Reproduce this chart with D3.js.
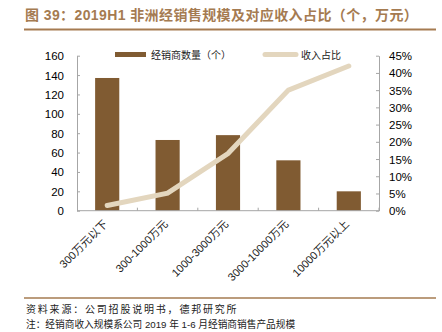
<!DOCTYPE html>
<html><head><meta charset="utf-8">
<script src="https://cdn.jsdelivr.net/npm/d3@7/dist/d3.min.js"></script>
<style>
body{margin:0;background:#fff;}
svg text{font-family:"Liberation Sans","Noto Sans CJK SC",sans-serif;}
</style></head>
<body><svg id="c" width="442" height="332"></svg>
<script>
const categories = ["300万元以下","300-1000万元","1000-3000万元","3000-10000万元","10000万元以上"];
const dealerCounts = [137, 73, 78, 52, 20];
const revenueShare = [0.015, 0.051, 0.166, 0.35, 0.42];
const leftTicks = [0,20,40,60,80,100,120,140,160];
const rightTicks = [0,0.05,0.10,0.15,0.20,0.25,0.30,0.35,0.40,0.45];
const seriesNames = ["经销商数量（个）","收入占比"];
const titleText = "图 39：2019H1 非洲经销售规模及对应收入占比（个，万元）";
const sourceText = "资料来源：公司招股说明书，德邦研究所";
const noteText = "注：经销商收入规模系公司 2019 年 1-6 月经销商销售产品规模";

const svg = d3.select("#c");
const barColor = "#805b32", lineColor = "#e3d6be", axisColor = "#a6a6a6", brown = "#a57b51";
const L = 77, R = 379, T = 55.7, B = 210.7;

svg.append("text").attr("x",25).attr("y",19.5).attr("font-size",14).attr("font-weight","bold")
  .attr("letter-spacing",0.4).attr("fill",brown).text(titleText);
svg.append("line").attr("x1",24).attr("x2",436).attr("y1",29.5).attr("y2",29.5).attr("stroke",brown).attr("stroke-width",2);

const x = d3.scaleBand().domain(categories).range([L,R]).paddingInner(0.6).paddingOuter(0.3);
const y = d3.scaleLinear().domain([0,160]).range([B,T]);
const y2 = d3.scaleLinear().domain([0,0.45]).range([B,T]);

// axes
const gl = svg.append("g").attr("transform",`translate(${L},0)`)
  .call(d3.axisRight(y).tickValues(leftTicks).tickSize(3).tickSizeOuter(0));
gl.selectAll("text").attr("x",-13).attr("text-anchor","end");
const gr = svg.append("g").attr("transform",`translate(${R},0)`)
  .call(d3.axisLeft(y2).tickValues(rightTicks).tickFormat(d3.format(".0%")).tickSize(3).tickSizeOuter(0));
gr.selectAll("text").attr("x",10).attr("text-anchor","start");
[gl,gr].forEach(g=>{
  g.select(".domain").attr("stroke",axisColor);
  g.selectAll(".tick line").attr("stroke",axisColor);
  g.selectAll("text").attr("font-size",11.5).attr("fill","#000").attr("dy","0.35em");
});

// bars
svg.append("g").selectAll("rect").data(categories).join("rect")
  .attr("x",d=>x(d)).attr("width",x.bandwidth())
  .attr("y",(d,i)=>y(dealerCounts[i])).attr("height",(d,i)=>B-y(dealerCounts[i]))
  .attr("fill",barColor);

// x axis
const step = (R-L)/categories.length;
const gx = svg.append("g");
gx.append("line").attr("x1",L).attr("x2",R).attr("y1",B).attr("y2",B).attr("stroke",axisColor);
gx.selectAll("line.t").data(d3.range(1,categories.length+1)).join("line").attr("class","t")
  .attr("x1",i=>L+i*step).attr("x2",i=>L+i*step).attr("y1",B).attr("y2",B-3).attr("stroke",axisColor);
gx.selectAll("text").data(categories).join("text")
  .attr("transform",d=>`translate(${x(d)+x.bandwidth()/2+1},${B+14}) rotate(-45)`)
  .attr("text-anchor","end").attr("font-size",11).attr("fill","#222").text(d=>d);

// line
const line = d3.line().x((d,i)=>x(categories[i])+x.bandwidth()/2).y(d=>y2(d));
svg.append("path").datum(revenueShare).attr("d",line).attr("fill","none")
  .attr("stroke",lineColor).attr("stroke-width",5).attr("stroke-linecap","round");

// legend
svg.append("rect").attr("x",115).attr("y",52).attr("width",31).attr("height",5).attr("fill",barColor);
svg.append("text").attr("x",151).attr("y",58.5).attr("font-size",10).attr("fill","#222").text(seriesNames[0]);
svg.append("line").attr("x1",265).attr("x2",296).attr("y1",54.5).attr("y2",54.5).attr("stroke",lineColor)
  .attr("stroke-width",5).attr("stroke-linecap","round");
svg.append("text").attr("x",301).attr("y",58.5).attr("font-size",10).attr("fill","#222").text(seriesNames[1]);

// footer
svg.append("line").attr("x1",24).attr("x2",436).attr("y1",298).attr("y2",298).attr("stroke",brown).attr("stroke-width",1.5);
svg.append("text").attr("x",26).attr("y",313).attr("font-size",10).attr("letter-spacing",1.8).attr("fill","#222").text(sourceText);
svg.append("text").attr("x",26).attr("y",328).attr("font-size",9.7).attr("fill","#222").text(noteText);
</script></body></html>
